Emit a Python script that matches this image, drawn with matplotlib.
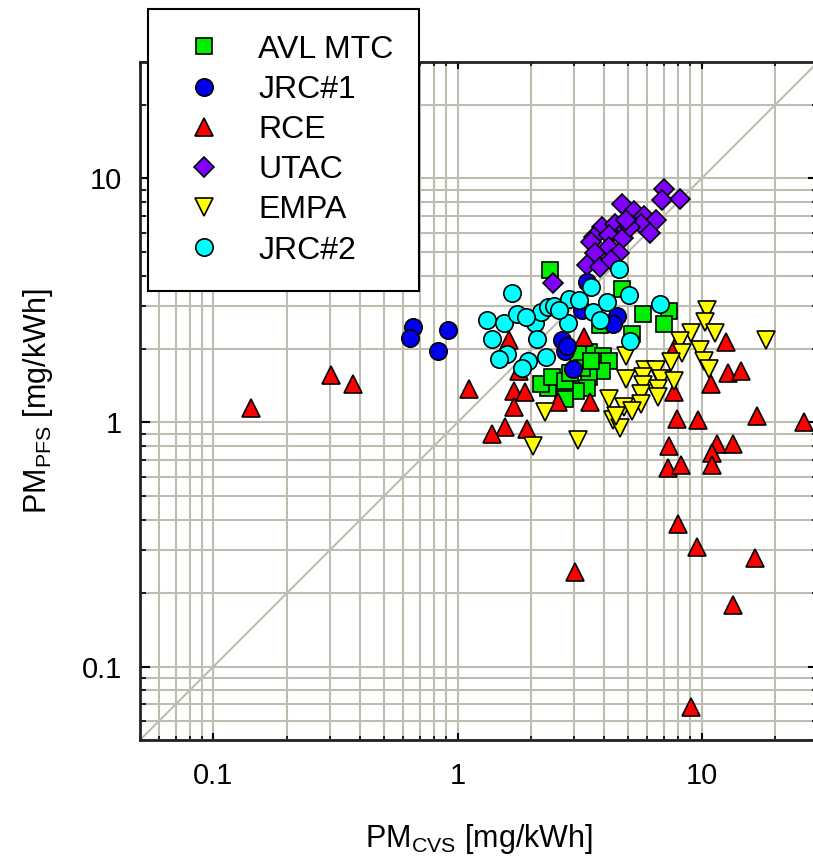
import matplotlib
matplotlib.use("Agg")
import matplotlib.pyplot as plt
from matplotlib.ticker import LogLocator, NullFormatter, FixedLocator, FixedFormatter

plt.rcParams['font.family'] = ['Liberation Sans', 'DejaVu Sans']
plt.rcParams['mathtext.fontset'] = 'custom'
plt.rcParams['mathtext.rm'] = 'Liberation Sans'
plt.rcParams['mathtext.it'] = 'Liberation Sans'

# ---- data (PM_CVS, PM_PFS) in mg/kWh ----
avl_x = [2.39, 4.70, 5.77, 7.38, 7.03, 5.21, 3.83, 3.45, 3.96, 4.16, 3.90, 3.12,
         3.45, 3.38, 3.05, 2.70, 2.34, 2.20, 2.44, 2.75, 3.25, 3.53, 2.75, 2.90]
avl_y = [4.21, 3.53, 2.79, 2.86, 2.54, 2.31, 2.50, 1.94, 1.88, 1.79, 1.63, 1.91,
         1.53, 1.39, 1.35, 1.31, 1.39, 1.44, 1.53, 1.48, 1.68, 1.79, 1.25, 1.60]

jrc1_x = [0.655, 0.637, 0.91, 0.83, 3.38, 4.51, 4.33, 2.68, 2.76, 2.97, 3.25, 2.80]
jrc1_y = [2.46, 2.22, 2.40, 1.97, 3.76, 2.74, 2.54, 2.17, 1.97, 1.66, 2.88, 2.05]

rce_x = [0.142, 0.304, 0.373, 1.11, 1.62, 1.71, 1.89, 1.71, 1.78, 3.29, 2.57, 3.48,
         1.56, 1.39, 1.92, 7.79, 12.6, 12.8, 14.5, 10.9, 7.69, 7.94, 9.64, 16.8,
         26.3, 7.38, 11.6, 13.5, 11.0, 7.32, 8.25, 11.0, 8.01, 9.55, 16.5, 3.03,
         13.4, 9.02]
rce_y = [1.15, 1.56, 1.44, 1.37, 2.17, 1.35, 1.33, 1.16, 1.63, 2.24, 1.21, 1.21,
         0.954, 0.90, 0.94, 2.03, 2.13, 1.59, 1.63, 1.44, 1.33, 1.03, 1.02, 1.06,
         1.00, 0.80, 0.815, 0.82, 0.75, 0.65, 0.67, 0.67, 0.384, 0.308, 0.279, 0.245,
         0.178, 0.068]

utac_x = [7.03, 8.18, 6.86, 4.70, 5.27, 5.82, 6.53, 3.91, 4.42, 4.90, 5.65, 3.64,
          4.16, 4.76, 6.14, 3.53, 4.16, 4.60, 3.67, 3.38, 3.83, 4.24, 5.10, 4.90, 2.46]
utac_y = [9.02, 8.20, 8.15, 7.85, 7.38, 7.02, 6.75, 6.34, 6.50, 6.18, 6.50, 5.73,
          5.86, 5.68, 5.96, 5.50, 5.25, 4.93, 4.93, 4.42, 4.35, 4.63, 6.34, 6.75, 3.72]

empa_x = [10.5, 10.3, 11.4, 18.4, 9.06, 8.18, 9.84, 8.35, 7.53, 10.2, 10.7, 4.90,
          4.90, 5.89, 6.53, 5.77, 6.80, 7.69, 5.73, 6.66, 5.65, 6.66, 4.16, 4.80,
          5.65, 5.21, 4.33, 4.65, 4.47, 2.29, 2.03, 3.12]
empa_y = [2.88, 2.58, 2.32, 2.18, 2.32, 2.15, 1.98, 1.92, 1.77, 1.79, 1.66, 1.88,
          1.51, 1.64, 1.64, 1.53, 1.51, 1.48, 1.42, 1.37, 1.31, 1.27, 1.25, 1.16,
          1.19, 1.11, 1.02, 0.95, 1.06, 1.10, 0.80, 0.85]

jrc2_x = [4.60, 1.68, 5.06, 3.53, 1.32, 1.55, 1.75, 2.07, 2.20, 2.34, 2.49, 2.87,
          3.16, 3.60, 3.83, 4.10, 6.74, 5.10, 2.84, 1.39, 1.60, 1.48, 2.11, 1.94,
          1.83, 2.31, 2.60, 1.90]
jrc2_y = [4.25, 3.38, 3.33, 3.60, 2.64, 2.56, 2.79, 2.56, 2.83, 2.97, 3.01, 3.21,
          3.19, 2.83, 2.63, 3.11, 3.05, 2.15, 2.56, 2.20, 1.91, 1.82, 2.20, 1.79,
          1.67, 1.86, 2.90, 2.70]

series = [
    ("AVL MTC", avl_x, avl_y, "s", "#00ee00", 11),
    ("JRC#1", jrc1_x, jrc1_y, "o", "#0000ee", 12.5),
    ("RCE", rce_x, rce_y, "^", "#ff0000", 13),
    ("UTAC", utac_x, utac_y, "D", "#8000ff", 10.5),
    ("EMPA", empa_x, empa_y, "v", "#ffff00", 13),
    ("JRC#2", jrc2_x, jrc2_y, "o", "#00ffff", 12.5),
]

x_range = [0.05, 30]
y_range = [0.05, 30]
tick_vals = [0.1, 1, 10]
tick_labels = ["0.1", "1", "10"]

W, H = 813, 858
fig = plt.figure(figsize=(W / 100, H / 100), dpi=100)
ax = fig.add_axes([140 / W, (H - 740) / H, 678 / W, 678 / H])
ax.set_xscale("log")
ax.set_yscale("log")
ax.set_xlim(x_range)
ax.set_ylim(y_range)

grid_c = "#bdbdb2"
ax.grid(True, which="both", color=grid_c, linewidth=1.5, zorder=0)
ax.set_axisbelow(True)
ax.plot(x_range, y_range, color=grid_c, linewidth=1.5, zorder=1)

for name, xs, ys, m, c, ms in series:
    ax.plot(xs, ys, linestyle="none", marker=m, markersize=ms,
            markerfacecolor=c, markeredgecolor="black", markeredgewidth=1.2,
            label=name, zorder=3)

for axis in (ax.xaxis, ax.yaxis):
    axis.set_major_locator(FixedLocator(tick_vals))
    axis.set_major_formatter(FixedFormatter(tick_labels))
    axis.set_minor_locator(LogLocator(base=10, subs=range(2, 10)))
    axis.set_minor_formatter(NullFormatter())

ax.tick_params(which="both", direction="in", top=True, right=True, color="black")
ax.tick_params(axis="y", which="major", length=7, width=1.5, pad=13, labelsize=21)
ax.tick_params(axis="y", which="minor", length=4.5, width=1.2)
ax.tick_params(axis="x", which="major", length=5, width=1.5, pad=16, labelsize=21)
ax.tick_params(axis="x", which="minor", length=3, width=1.2)
for s in ax.spines.values():
    s.set_linewidth(2)
    s.set_color("#222222")

ax.set_xlabel(r"PM$_{\mathrm{CVS}}$ [mg/kWh]", fontsize=22, labelpad=23)
ax.set_ylabel(r"PM$_{\mathrm{PFS}}$ [mg/kWh]", fontsize=22, labelpad=19)

leg = ax.legend(loc="upper left", bbox_to_anchor=(148 / W, 1 - 9 / H),
                bbox_transform=fig.transFigure, fontsize=23, frameon=True,
                fancybox=False, framealpha=1, edgecolor="black",
                borderpad=0.8, handlelength=1.92, handletextpad=0.735,
                labelspacing=0.32, borderaxespad=0)
leg.get_frame().set_linewidth(1.5)
leg.set_zorder(10)

fig.savefig("out.png", dpi=100)
